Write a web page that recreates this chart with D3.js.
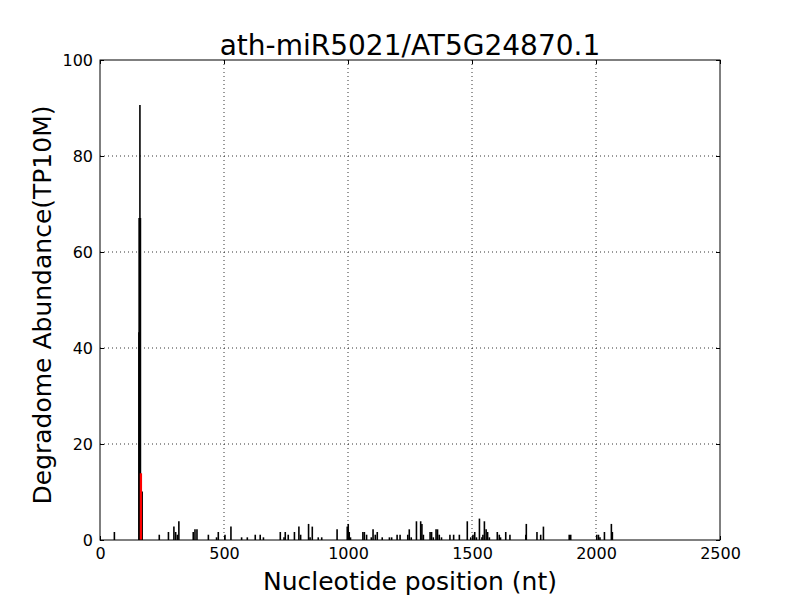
<!DOCTYPE html>
<html>
<head>
<meta charset="utf-8">
<script src="https://cdn.jsdelivr.net/npm/d3@7"></script>
<style>
  body { margin: 0; background: #fff; }
  svg { font-family: "DejaVu Sans", sans-serif; }
  .grid line { stroke: #000; stroke-dasharray: 1,3; stroke-width: 0.8; }
</style>
</head>
<body>
<svg width="800" height="600"></svg>
<script>
const title = 'ath-miR5021/AT5G24870.1';
const xTicks = [0, 500, 1000, 1500, 2000, 2500];
const yTicks = [0, 20, 40, 60, 80, 100];

// degradome tags: nucleotide position and abundance (TP10M)
const positions = [58, 157, 158, 160, 161, 163, 170, 239, 276, 298, 305, 312, 318, 376, 383, 391,
  437, 470, 477, 504, 528, 571, 594, 626, 646, 659, 727, 742, 747, 759, 784, 802, 809, 841, 847,
  856, 880, 894, 956, 997, 1001, 1005, 1010, 1060, 1066, 1075, 1094, 1101, 1110, 1118, 1138, 1167,
  1176, 1198, 1210, 1241, 1247, 1255, 1276, 1293, 1298, 1304, 1331, 1337, 1344, 1355, 1361, 1368,
  1377, 1411, 1426, 1449, 1481, 1495, 1504, 1511, 1518, 1530, 1540, 1544, 1550, 1557, 1563, 1570,
  1602, 1610, 1615, 1636, 1653, 1717, 1719, 1762, 1777, 1788, 1892, 1898, 2003, 2010, 2016, 2034,
  2062, 2066];
const abundance = [1.67, 43.3, 67.1, 67.1, 90.6, 67.1, 10.1, 1.1, 1.67, 2.79, 1.67, 1.1, 3.9, 1.67, 2.23, 2.23,
  1.1, 0.56, 1.67, 1.1, 2.79, 0.56, 0.56, 1.1, 1.1, 0.56, 1.67, 0.56, 1.67, 1.1, 1.67, 2.79, 1.1, 3.35, 0.56,
  2.79, 0.56, 0.56, 2.23, 2.79, 3.35, 1.67, 0.56, 1.67, 1.67, 1.1, 0.56, 2.23, 1.1, 1.67, 0.56, 0.56,
  0.56, 1.1, 1.1, 1.1, 2.23, 0.56, 3.9, 3.9, 3.35, 1.1, 1.67, 1.67, 0.56, 2.23, 2.23, 1.1,
  0.56, 1.1, 1.1, 1.1, 3.9, 0.56, 1.1, 1.67, 0.56, 4.46, 0.56, 1.1, 3.9, 2.23, 1.67, 0.56,
  1.67, 1.1, 0.56, 1.67, 1.1, 1.1, 3.35, 1.67, 1.1, 2.79, 1.1, 1.1, 1.1, 1.1, 0.56, 1.67,
  3.35, 1.67];

// predicted cleavage site
const targetPos = [165];
const targetVal = [13.9];

const margin = { top: 60, right: 80, bottom: 60, left: 100 };
const width = 800 - margin.left - margin.right;
const height = 600 - margin.top - margin.bottom;

const svg = d3.select('svg');
const g = svg.append('g').attr('transform', `translate(${margin.left},${margin.top})`);

const x = d3.scaleLinear().domain([0, 2500]).range([0, width]);
const y = d3.scaleLinear().domain([0, 100]).range([height, 0]);

// grid
g.append('g').attr('class', 'grid')
  .selectAll('line').data(xTicks.slice(1, -1)).enter().append('line')
  .attr('x1', d => x(d)).attr('x2', d => x(d)).attr('y1', 0).attr('y2', height);
g.append('g').attr('class', 'grid')
  .selectAll('line').data(yTicks.slice(1, -1)).enter().append('line')
  .attr('y1', d => y(d)).attr('y2', d => y(d)).attr('x1', 0).attr('x2', width);

// bars
const tags = positions.map((p, i) => ({ p, v: abundance[i] }));
g.append('g').selectAll('line').data(tags).enter().append('line')
  .attr('x1', d => x(d.p)).attr('x2', d => x(d.p))
  .attr('y1', y(0)).attr('y2', d => y(d.v))
  .attr('stroke', '#000').attr('stroke-width', 1.6);

g.append('g').selectAll('line').data(targetPos.map((p, i) => ({ p, v: targetVal[i] }))).enter().append('line')
  .attr('x1', d => x(d.p)).attr('x2', d => x(d.p))
  .attr('y1', y(0)).attr('y2', d => y(d.v))
  .attr('stroke', '#ff0000').attr('stroke-width', 2.3);

// axes (ticks inward on all sides)
const tickSize = 4;
g.append('g').attr('transform', `translate(0,${height})`)
  .call(d3.axisBottom(x).tickValues(xTicks).tickSize(-tickSize).tickPadding(8).tickFormat(d3.format('d')))
  .call(a => a.select('.domain').remove())
  .call(a => a.selectAll('text').attr('font-size', 16).attr('fill', '#000').attr('font-family', 'DejaVu Sans'));
g.append('g')
  .call(d3.axisTop(x).tickValues(xTicks).tickSize(-tickSize).tickFormat(''))
  .call(a => a.select('.domain').remove());
g.append('g')
  .call(d3.axisLeft(y).tickValues(yTicks).tickSize(-tickSize).tickPadding(7))
  .call(a => a.select('.domain').remove())
  .call(a => a.selectAll('text').attr('font-size', 16).attr('fill', '#000').attr('font-family', 'DejaVu Sans'));
g.append('g').attr('transform', `translate(${width},0)`)
  .call(d3.axisRight(y).tickValues(yTicks).tickSize(-tickSize).tickFormat(''))
  .call(a => a.select('.domain').remove());

g.append('rect').attr('width', width).attr('height', height)
  .attr('fill', 'none').attr('stroke', '#000').attr('stroke-width', 1);

// labels
svg.append('text').attr('x', margin.left + width / 2).attr('y', 55)
  .attr('text-anchor', 'middle').attr('font-size', 28).text(title);
svg.append('text').attr('x', margin.left + width / 2).attr('y', 590)
  .attr('text-anchor', 'middle').attr('font-size', 25).text('Nucleotide position (nt)');
svg.append('text').attr('transform', `translate(51,${margin.top + height / 2 + 5}) rotate(-90)`)
  .attr('text-anchor', 'middle').attr('font-size', 25).text('Degradome Abundance(TP10M)');
</script>
</body>
</html>
